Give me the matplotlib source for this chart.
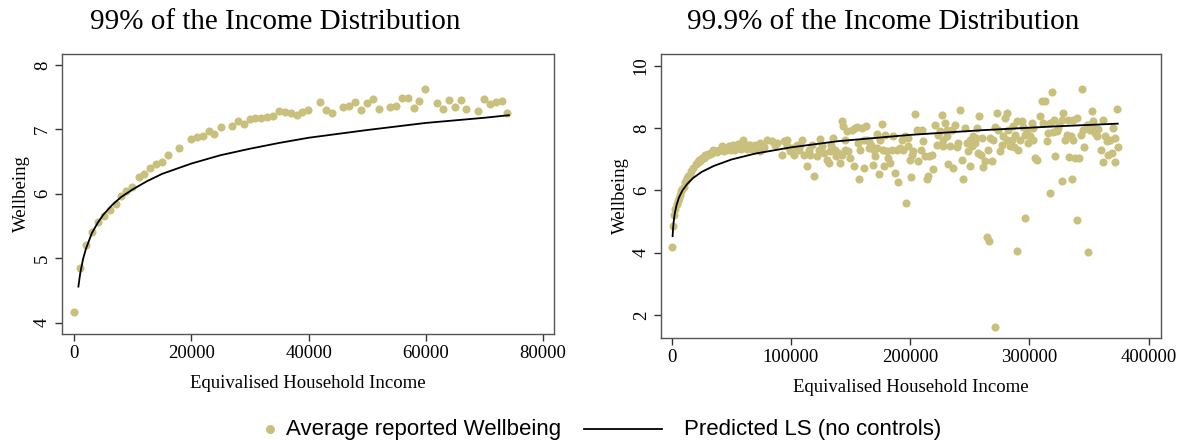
import matplotlib
matplotlib.use("Agg")
import matplotlib.pyplot as plt
from matplotlib.lines import Line2D

# binned averages (1000-wide income bins), bottom 99% of incomes
income_99 = [0, 909, 1932, 2955, 3978, 5001, 6024, 7047, 7956, 8866, 9889,
             10968, 11934, 12957, 13980, 15003, 15969, 17958, 19947, 20914,
             21937, 22960, 23926, 25005, 26938, 27961, 28927, 29950, 30916,
             31939, 32962, 33928, 34894, 35917, 36940, 37963, 38929, 39952,
             41941, 42907, 43930, 45919, 46942, 47908, 48931, 49897, 50920,
             51943, 53932, 54955, 55921, 56944, 57967, 58933, 59956, 61945,
             62968, 63934, 64957, 65980, 66946, 68935, 69958, 70924, 71947,
             72970, 73936]
wellbeing_99 = [4.17, 4.85, 5.21, 5.40, 5.56, 5.65, 5.75, 5.84, 5.97, 6.04,
                6.11, 6.26, 6.30, 6.40, 6.46, 6.50, 6.61, 6.71, 6.85, 6.88,
                6.90, 6.97, 6.93, 7.03, 7.05, 7.13, 7.09, 7.16, 7.18, 7.18,
                7.19, 7.20, 7.29, 7.27, 7.26, 7.23, 7.27, 7.30, 7.43, 7.30,
                7.26, 7.34, 7.37, 7.43, 7.30, 7.41, 7.47, 7.31, 7.34, 7.37,
                7.49, 7.49, 7.33, 7.44, 7.62, 7.41, 7.32, 7.45, 7.35, 7.46,
                7.32, 7.29, 7.47, 7.40, 7.42, 7.44, 7.25]

# extra bins above the 99th percentile, up to 99.9% (income in thousands)
income_top_k = [74.2, 77.5, 80.1, 84.0, 86.8, 88.2, 92.3, 93.7, 96.5, 100.7,
                102.1, 104.9, 107.1, 109.1, 110.5, 113.3, 114.7, 117.5, 119.4,
                121.7, 124.5, 125.9, 127.8, 130.1, 131.5, 133.4, 135.6, 137.0,
                139.0, 141.2, 142.6, 142.6, 144.0, 146.8, 148.2, 149.6, 152.4,
                153.8, 155.8, 157.4, 158.0, 159.4, 161.4, 163.0, 163.6, 165.0,
                167.0, 168.4, 170.6, 172.0, 173.4, 174.8, 176.2, 177.6, 179.0,
                180.3, 181.7, 183.1, 185.9, 187.3, 188.7, 190.1, 191.5, 194.3,
                196.5, 198.5, 199.9, 200.5, 202.7, 204.1, 205.5, 206.9, 209.7,
                211.1, 212.5, 213.9, 215.3, 218.0, 219.4, 220.8, 222.2, 223.6,
                226.4, 227.8, 229.2, 230.6, 232.0, 233.4, 234.8, 236.2, 237.6,
                240.4, 241.8, 243.2, 244.6, 246.0, 248.8, 249.7, 250.2, 253.0,
                254.4, 255.8, 257.2, 258.0, 260.0, 261.4, 262.7, 264.1, 265.5,
                266.4, 268.3, 269.8, 271.4, 272.5, 273.9, 275.3, 276.7, 279.5,
                280.9, 282.3, 283.7, 285.1, 287.9, 289.3, 289.3, 292.1, 293.5,
                296.3, 296.3, 299.1, 301.9, 303.3, 304.7, 306.6, 308.9, 310.3,
                313.1, 314.5, 315.9, 317.3, 317.3, 318.7, 320.6, 321.5, 322.9,
                324.3, 327.1, 327.6, 328.5, 331.3, 333.5, 334.6, 335.4, 336.8,
                338.2, 339.6, 340.2, 341.9, 343.8, 345.8, 348.0, 349.4, 350.8,
                352.2, 353.6, 355.0, 356.4, 359.7, 361.4, 361.9, 364.7, 366.1,
                370.3, 371.7, 371.7, 373.1, 374.5,
                145.4, 151.0, 155.2, 160.8, 165.8, 169.2, 172.5, 177.0, 184.5,
                192.9, 195.7, 197.7, 201.3, 208.8, 216.1, 225.1, 227.3, 231.2,
                239.0, 247.4, 251.6, 255.2, 259.1, 267.0, 271.2, 277.6, 281.5,
                286.0, 287.1, 290.7, 294.9, 297.7, 300.5, 302.7, 311.7, 319.5,
                325.1, 329.8, 332.6, 336.3, 342.9, 344.6, 349.4, 353.0, 357.8,
                363.4, 367.6, 369.0, 96.5, 99.3, 107.7, 116.1, 123.1, 132.3,
                137.9, 145.4]
wellbeing_top = [7.52, 7.39, 7.63, 7.57, 7.44, 7.52, 7.15, 7.57, 7.41, 7.36,
                 7.15, 7.47, 7.31, 7.63, 7.15, 6.77, 7.31, 7.44, 6.47, 7.09,
                 7.65, 7.41, 7.20, 6.99, 6.88, 7.47, 7.68, 7.31, 7.20, 6.88,
                 7.15, 8.24, 8.08, 7.90, 7.25, 7.04, 6.77, 8.00, 7.52, 6.35,
                 7.31, 8.00, 6.72, 8.06, 7.63, 7.36, 7.44, 6.81, 7.09, 7.36,
                 6.51, 7.63, 8.13, 6.77, 7.79, 7.25, 7.04, 6.88, 7.74, 6.56,
                 7.31, 6.26, 7.36, 7.31, 5.61, 7.68, 6.99, 6.42, 7.25, 8.46,
                 7.95, 6.93, 7.95, 7.57, 7.09, 6.35, 6.45, 7.15, 6.67, 8.11,
                 7.47, 7.79, 8.43, 7.41, 8.16, 7.74, 6.83, 7.41, 7.95, 6.72,
                 8.11, 7.52, 8.57, 6.99, 6.35, 8.00, 7.25, 6.79, 7.63, 7.74,
                 7.52, 8.00, 7.20, 8.40, 7.68, 6.74, 6.93, 4.51, 7.31, 4.37,
                 6.93, 7.63, 1.62, 8.48, 7.95, 7.25, 7.47, 8.32, 8.48, 7.95,
                 7.41, 7.63, 7.79, 8.22, 4.05, 7.63, 8.22, 7.79, 5.10, 7.52,
                 8.16, 7.63, 7.04, 6.97, 8.40, 8.86, 8.86, 7.57, 7.84, 8.16,
                 5.90, 9.15, 8.25, 7.09, 7.90, 8.00, 8.27, 6.29, 8.48, 7.79,
                 7.07, 7.74, 6.37, 8.27, 7.04, 8.32, 5.06, 7.04, 9.25, 7.39,
                 8.11, 4.02, 7.95, 8.54, 8.22, 7.84, 7.74, 7.29, 6.91, 8.25,
                 7.57, 7.15, 8.00, 6.91, 7.68, 8.62, 7.39,
                 7.63, 7.95, 8.03, 7.63, 7.57, 7.31, 7.81, 7.31, 7.31,
                 7.63, 7.74, 7.41, 7.15, 7.31, 7.09, 7.90, 7.63, 7.95,
                 7.39, 7.52, 7.41, 7.68, 7.15, 7.68, 8.03, 7.74, 7.63,
                 8.06, 7.39, 7.31, 8.03, 7.95, 7.74, 8.00, 8.16, 7.86,
                 8.11, 7.63, 8.27, 7.63, 7.79, 7.95, 8.11, 8.03, 7.97,
                 7.74, 7.63, 7.20, 7.63, 7.25, 7.44, 7.15, 7.31, 7.25,
                 7.09, 7.31]

# predicted life satisfaction (no controls)
pred_x_99 = [700, 1000, 1500, 2000, 3000, 4000, 5000, 6500, 8000, 10000,
             12500, 15000, 20000, 25000, 30000, 35000, 40000, 50000, 60000,
             70000, 74200]
pred_y_99 = [4.56, 4.76, 4.99, 5.15, 5.39, 5.55, 5.68, 5.83, 5.95, 6.07,
             6.20, 6.31, 6.47, 6.60, 6.70, 6.79, 6.87, 6.99, 7.10, 7.18, 7.22]
pred_x_999 = [700, 1000, 1500, 2500, 4000, 6000, 9000, 13000, 18000, 25000,
              35000, 50000, 70000, 100000, 140000, 200000, 260000, 320000,
              374000]
pred_y_999 = [4.53, 4.74, 4.97, 5.26, 5.53, 5.77, 6.00, 6.21, 6.40, 6.59,
              6.78, 6.99, 7.18, 7.38, 7.58, 7.78, 7.93, 8.05, 8.14]

titles = ["99% of the Income Distribution", "99.9% of the Income Distribution"]
xticks_99 = [0, 20000, 40000, 60000, 80000]
xticks_999 = [0, 100000, 200000, 300000, 400000]
yticks_99 = [4, 5, 6, 7, 8]
yticks_999 = [2, 4, 6, 8, 10]

DOT = "#cac07e"
SERIF = "Liberation Serif"
SANS = "Liberation Sans"
W, H = 1187, 441


def box(left, top, right, bottom):
    return [left / W, 1 - bottom / H, (right - left) / W, (bottom - top) / H]


def style(ax, xticks, yticks):
    for sp in ax.spines.values():
        sp.set_color("#555555")
        sp.set_linewidth(1.0)
    ax.set_xticks(xticks)
    ax.set_yticks(yticks)
    ax.set_xticklabels([str(t) for t in xticks], family=SERIF, fontsize=13.5)
    ax.set_yticklabels([str(t) for t in yticks], family=SERIF, fontsize=13.5,
                       rotation=90, va="center")
    ax.tick_params(direction="out", length=5, width=1, color="#333333", pad=3)
    ax.set_xlabel("Equivalised Household Income", family=SERIF, fontsize=13.5,
                  labelpad=9)
    ax.set_ylabel("Wellbeing", family=SERIF, fontsize=13.5, labelpad=3)


fig = plt.figure(figsize=(W / 100, H / 100), dpi=100)

ax1 = fig.add_axes(box(62, 54, 554, 334))
ax1.scatter(income_99, wellbeing_99, s=34, color=DOT, linewidths=0, zorder=2)
ax1.plot(pred_x_99, pred_y_99, color="black", lw=1.3, zorder=3)
ax1.set_xlim(-2100, 81900)
ax1.set_ylim(3.824, 8.17)
style(ax1, xticks_99, yticks_99)

income_999 = income_99 + [v * 1000 for v in income_top_k]
wellbeing_999 = wellbeing_99 + wellbeing_top
ax2 = fig.add_axes(box(661, 54, 1161, 338))
ax2.scatter(income_999, wellbeing_999, s=34, color=DOT, linewidths=0, zorder=2)
ax2.plot(pred_x_999, pred_y_999, color="black", lw=1.3, zorder=3)
ax2.set_xlim(-9050, 410300)
ax2.set_ylim(1.263, 10.375)
style(ax2, xticks_999, yticks_999)

fig.text(275 / W, 1 - 22 / H, titles[0], family=SERIF, fontsize=21,
         ha="center", va="center")
fig.text(883 / W, 1 - 22 / H, titles[1], family=SERIF, fontsize=21,
         ha="center", va="center")

# shared legend along the bottom
ly = 1 - 429 / H
fig.add_artist(Line2D([270 / W], [ly], marker="o", markersize=6.5,
                      color=DOT, markeredgewidth=0, linestyle="none"))
fig.text(286 / W, ly, "Average reported Wellbeing", family=SANS,
         fontsize=16, ha="left", va="center")
fig.add_artist(Line2D([584 / W, 662 / W], [ly, ly], color="black", lw=1.3))
fig.text(684 / W, ly, "Predicted LS (no controls)", family=SANS,
         fontsize=16, ha="left", va="center")

fig.savefig("out.png", dpi=100)
